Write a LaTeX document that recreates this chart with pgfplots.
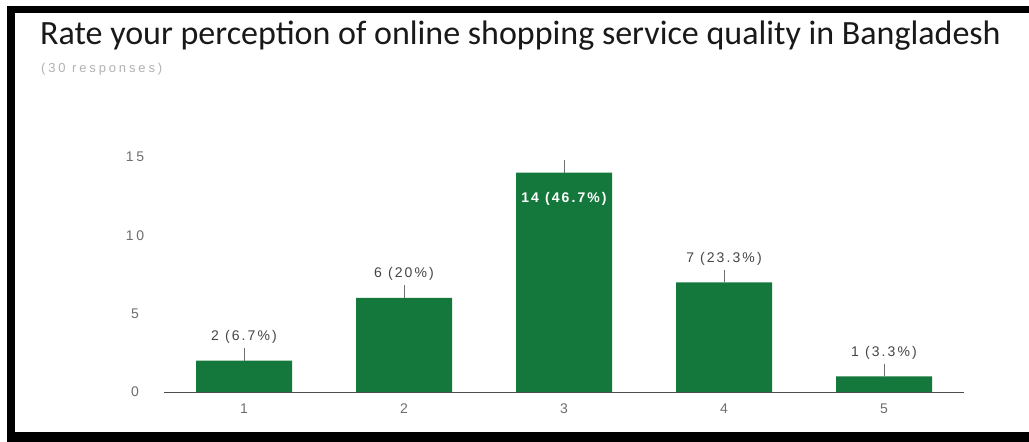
\documentclass[border=0pt]{standalone}
\usepackage{pgfplots}
\pgfplotsset{compat=1.18}
\usepackage{fontspec}
\setmainfont{Liberation Sans}
\newfontfamily\calibri{Carlito}
\newfontfamily\lblfont[LetterSpace=15]{Liberation Sans}
\newfontfamily\tickfont[LetterSpace=20]{Liberation Sans}
\newfontfamily\subfont[LetterSpace=22]{Liberation Sans}
\definecolor{gBar}{RGB}{20,120,60}
\definecolor{gTick}{RGB}{110,110,110}
\definecolor{gLbl}{RGB}{70,70,70}

\begin{document}
\begin{tikzpicture}
% page and frame: 1px = 1pt, y measured from the bottom
\fill[white] (0pt,0pt) rectangle (1029pt,442pt);
\fill[black] (7pt,436pt) rectangle (1029pt,429pt);   % top band
\fill[black] (7pt,436pt) rectangle (15pt,0pt);       % left band
\fill[black] (7pt,0pt) rectangle (1029pt,10pt);      % bottom band
\node[anchor=base west, inner sep=0pt, font=\calibri\fontsize{34}{38}\selectfont, text=black!90]
  at (40pt,397pt) {Rate your perception of online shopping service quality in Bangladesh};
\node[anchor=west, inner sep=0pt, font=\subfont\fontsize{13}{15}\selectfont, text=gray!60]
  at (41pt,373pt) {(30 responses)};

\begin{axis}[
  at={(164pt,50pt)}, anchor=south west,
  scale only axis, width=800pt, height=235pt,
  xmin=0.5, xmax=5.5, ymin=0, ymax=15,
  axis x line*=bottom, axis y line*=left,
  x axis line style={black!70, line width=0.8pt, -},
  y axis line style={draw=none},
  xtick={1,2,3,4,5}, ytick={0,5,10,15},
  major tick length=0pt,
  /pgf/number format/assume math mode=true,
  tick label style={font=\tickfont\fontsize{14}{16}\selectfont, text=gTick},
  xticklabel style={anchor=center, yshift=-17pt},
  yticklabel style={anchor=center, xshift=-29pt},
  clip=false,
]
\addplot[ybar, bar shift=0pt, bar width=96pt, fill=gBar, draw=none,
  error bars/.cd, y dir=plus, y fixed=0.8, error mark=none,
  error bar style={gTick, line width=0.6pt}]
  coordinates {(1,2) (2,6) (3,14) (4,7) (5,1)};
\addplot[only marks, mark=none, point meta=explicit symbolic, nodes near coords,
  every node near coord/.append style={anchor=south, inner sep=0pt, yshift=17pt,
    font=\lblfont\fontsize{14}{16}\selectfont, text=gLbl}]
  coordinates {(1,2) [2 (6.7\%)] (2,6) [6 (20\%)] (4,7) [7 (23.3\%)] (5,1) [1 (3.3\%)]};
\addplot[only marks, mark=none, point meta=explicit symbolic, nodes near coords,
  every node near coord/.append style={anchor=center, inner sep=0pt, yshift=-26pt,
    font=\lblfont\fontsize{14}{16}\selectfont\bfseries, text=white}]
  coordinates {(3,14) [14 (46.7\%)]};
\end{axis}
\end{tikzpicture}
\end{document}
